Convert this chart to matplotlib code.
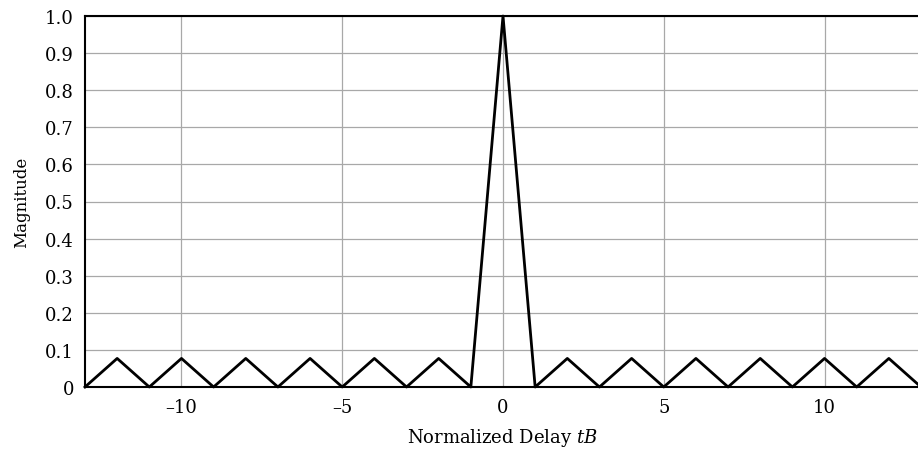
import matplotlib.pyplot as plt

# Barker-13 autocorrelation magnitude
delay = [-13, -12, -11, -10, -9, -8, -7, -6, -5, -4, -3, -2, -1, 0,
         1, 2, 3, 4, 5, 6, 7, 8, 9, 10, 11, 12, 13]
magnitude = [0, 0.077, 0, 0.077, 0, 0.077, 0, 0.077, 0, 0.077, 0, 0.077, 0, 1.0,
             0, 0.077, 0, 0.077, 0, 0.077, 0, 0.077, 0, 0.077, 0, 0.077, 0]

xticks = [-10, -5, 0, 5, 10]
xtick_labels = ['\u201310', '\u20135', '0', '5', '10']
yticks = [0, 0.1, 0.2, 0.3, 0.4, 0.5, 0.6, 0.7, 0.8, 0.9, 1.0]
ytick_labels = ['0', '0.1', '0.2', '0.3', '0.4', '0.5', '0.6', '0.7', '0.8', '0.9', '1.0']

plt.rcParams['font.family'] = ['DejaVu Serif']
plt.rcParams['mathtext.fontset'] = 'dejavuserif'

fig = plt.figure(figsize=(9.18, 4.52), dpi=100)
ax = fig.add_axes([85 / 918, 1 - 388 / 452, (921 - 85) / 918, (388 - 17) / 452])

ax.plot(delay, magnitude, color='black', linewidth=2, zorder=3, clip_on=False)

ax.set_xlim(-13, 13)
ax.set_ylim(0, 1.0)
ax.set_xticks(xticks)
ax.set_xticklabels(xtick_labels, fontsize=13)
ax.set_yticks(yticks)
ax.set_yticklabels(ytick_labels, fontsize=13)
ax.tick_params(length=0, pad=8)

ax.grid(True, color='#a8a8a8', linewidth=0.9)
ax.set_axisbelow(True)
for side in ['left', 'bottom', 'top']:
    ax.spines[side].set_linewidth(1.5)
    ax.spines[side].set_color('black')
ax.spines['right'].set_visible(False)

ax.set_xlabel('Normalized Delay $tB$', fontsize=13, labelpad=7)
ax.set_ylabel('Magnitude', fontsize=12, labelpad=11)

plt.savefig('out.png', dpi=100)
